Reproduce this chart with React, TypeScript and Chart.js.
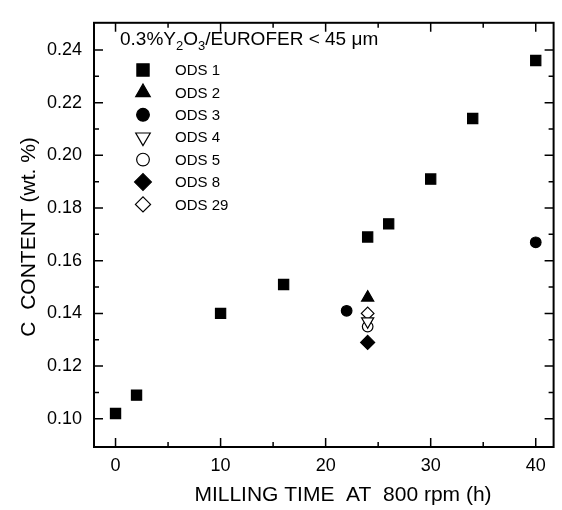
import React, { useEffect, useRef } from "react";
import { Chart, registerables } from "chart.js";
import { drawPoint } from "chart.js/helpers";

Chart.register(...registerables);

const xTicks = [0, 10, 20, 30, 40];
const xMinorTicks = [5, 15, 25, 35];
const yTicks = [0.1, 0.12, 0.14, 0.16, 0.18, 0.2, 0.22, 0.24];
const yMinorTicks = [0.11, 0.13, 0.15, 0.17, 0.19, 0.21, 0.23];

const ods1Time = [0, 2, 10, 16, 24, 26, 30, 34, 40];
const ods1Carbon = [0.102, 0.109, 0.14, 0.151, 0.169, 0.174, 0.191, 0.214, 0.236];
const ods2Time = [24];
const ods2Carbon = [0.146];
const ods3Time = [22, 40];
const ods3Carbon = [0.141, 0.167];
const ods4Time = [24];
const ods4Carbon = [0.137];
const ods5Time = [24];
const ods5Carbon = [0.135];
const ods8Time = [24];
const ods8Carbon = [0.129];
const ods29Time = [24];
const ods29Carbon = [0.14];

const FONT = "'Liberation Sans', Arial, sans-serif";

const pts = (xs: number[], ys: number[]) => xs.map((x, i) => ({ x, y: ys[i] }));

const framePlugin = {
  id: "frameTicks",
  afterDraw(chart: any) {
    const { ctx, chartArea: a, scales } = chart;
    const xs = scales.x;
    const ys = scales.y;
    ctx.save();
    ctx.strokeStyle = "#000";
    ctx.lineWidth = 1.5;
    ctx.beginPath();
    const tickX = (v: number, len: number) => {
      const px = xs.getPixelForValue(v);
      ctx.moveTo(px, a.bottom);
      ctx.lineTo(px, a.bottom - len);
      ctx.moveTo(px, a.top);
      ctx.lineTo(px, a.top + len);
    };
    const tickY = (v: number, len: number) => {
      const py = ys.getPixelForValue(v);
      ctx.moveTo(a.left, py);
      ctx.lineTo(a.left + len, py);
      ctx.moveTo(a.right, py);
      ctx.lineTo(a.right - len, py);
    };
    xTicks.forEach((v) => tickX(v, 9));
    xMinorTicks.forEach((v) => tickX(v, 5));
    yTicks.forEach((v) => tickY(v, 9));
    yMinorTicks.forEach((v) => tickY(v, 5));
    ctx.stroke();
    ctx.lineWidth = 2;
    ctx.strokeRect(a.left, a.top, a.right - a.left, a.bottom - a.top);

    // axis titles
    ctx.fillStyle = "#000";
    ctx.font = `21px ${FONT}`;
    ctx.textAlign = "center";
    ctx.textBaseline = "middle";
    ctx.fillText("MILLING TIME  AT  800 rpm (h)", 343, 495);
    ctx.save();
    ctx.translate(29, (a.top + a.bottom) / 2 + 2);
    ctx.rotate(-Math.PI / 2);
    ctx.fillText("C  CONTENT (wt. %)", 0, 0);
    ctx.restore();

    // legend title with subscripts
    ctx.textAlign = "left";
    ctx.textBaseline = "alphabetic";
    let x = 120;
    const base = 45;
    const parts: [string, boolean][] = [
      ["0.3%Y", false],
      ["2", true],
      ["O", false],
      ["3", true],
      ["/EUROFER < 45 \u03bcm", false],
    ];
    parts.forEach(([t, sub]) => {
      ctx.font = sub ? `13px ${FONT}` : `19px ${FONT}`;
      ctx.fillText(t, x, sub ? base + 5 : base);
      x += ctx.measureText(t).width;
    });

    // legend entries
    ctx.font = `15px ${FONT}`;
    ctx.textBaseline = "middle";
    chart.data.datasets.forEach((ds: any, i: number) => {
      const y = 70 + i * 22.4;
      ctx.fillStyle = ds.backgroundColor;
      ctx.strokeStyle = ds.borderColor;
      ctx.lineWidth = ds.borderWidth;
      drawPoint(ctx, {
        pointStyle: ds.pointStyle,
        rotation: ds.pointRotation || 0,
        radius: ds.pointRadius * 1.2,
        borderWidth: ds.borderWidth,
      } as any, 143, y);
      ctx.fillStyle = "#000";
      ctx.fillText(ds.label, 175, y + 1);
    });
    ctx.restore();
  },
};

const mk = (label: string, xs: number[], ys: number[], style: string, r: number, filled: boolean, rot = 0) => ({
  label,
  data: pts(xs, ys),
  pointStyle: style,
  pointRadius: r,
  pointRotation: rot,
  backgroundColor: filled ? "#000" : "#fff",
  borderColor: "#000",
  borderWidth: 1.2,
  showLine: false,
});

export default function App() {
  const ref = useRef<HTMLCanvasElement>(null);
  useEffect(() => {
    if (!ref.current) return;
    const chart = new Chart(ref.current, {
      type: "scatter",
      data: {
        datasets: [
          mk("ODS 1", ods1Time, ods1Carbon, "rect", 7.2, true),
          mk("ODS 2", ods2Time, ods2Carbon, "triangle", 7, true),
          mk("ODS 3", ods3Time, ods3Carbon, "circle", 5.3, true),
          mk("ODS 4", ods4Time, ods4Carbon, "triangle", 7, false, 180),
          mk("ODS 5", ods5Time, ods5Carbon, "circle", 5.3, false),
          mk("ODS 8", ods8Time, ods8Carbon, "rectRot", 7, true),
          mk("ODS 29", ods29Time, ods29Carbon, "rectRot", 6.3, false),
        ] as any,
      },
      options: {
        animation: false,
        responsive: false,
        devicePixelRatio: 1,
        layout: { padding: { top: 9, right: 1, left: 0, bottom: 0 } },
        plugins: { legend: { display: false }, tooltip: { enabled: false } },
        scales: {
          x: {
            type: "linear",
            min: -2.05,
            max: 41.7,
            grid: { display: false, drawTicks: false },
            border: { display: false },
            afterBuildTicks: (s: any) => {
              s.ticks = xTicks.map((v) => ({ value: v }));
            },
            afterFit: (s: any) => {
              s.height = 63;
            },
            ticks: {
              padding: 8,
              color: "#000",
              font: { family: FONT, size: 18 },
              callback: (v: any) => String(v),
            },
          },
          y: {
            type: "linear",
            min: 0.0893,
            max: 0.2503,
            grid: { display: false, drawTicks: false },
            border: { display: false },
            afterBuildTicks: (s: any) => {
              s.ticks = yTicks.map((v) => ({ value: v }));
            },
            afterFit: (s: any) => {
              s.width = 94;
            },
            ticks: {
              padding: 12,
              color: "#000",
              font: { family: FONT, size: 18 },
              callback: (v: any) => Number(v).toFixed(2),
            },
          },
        },
      } as any,
      plugins: [framePlugin],
    });
    return () => chart.destroy();
  }, []);
  return (
    <div style={{ position: "absolute", left: 0, top: 0, width: 562, height: 510, background: "#fff" }}>
      <canvas ref={ref} width={562} height={510} style={{ display: "block" }} />
    </div>
  );
}
